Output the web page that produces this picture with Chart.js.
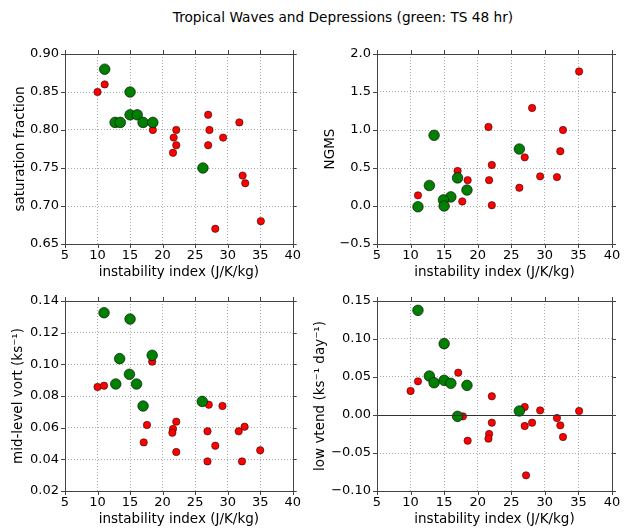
<!DOCTYPE html>
<html lang="en">
<head>
    <meta charset="UTF-8">
    <title>Tropical Waves and Depressions</title>
    <script src="https://cdn.jsdelivr.net/npm/chart.js"></script>
    <style>
        body {
            margin: 0;
            background: #ffffff;
            font-family: 'DejaVu Sans', sans-serif;
        }
        #page {
            position: relative;
            width: 631px;
            height: 528px;
            overflow: hidden;
        }
        #title {
            position: absolute;
            left: 143px;
            width: 400px;
            top: 9px;
            text-align: center;
            font-size: 13.7px;
            color: #000;
        }
        .panel {
            position: absolute;
        }
    </style>
</head>
<body>
<div id="page">
    <div id="title">Tropical Waves and Depressions (green: TS 48 hr)</div>
    <div class="panel" style="left:0px;top:30px;width:305px;height:252px"><canvas id="satChart"></canvas></div>
    <div class="panel" style="left:300px;top:30px;width:331px;height:252px"><canvas id="ngmsChart"></canvas></div>
    <div class="panel" style="left:0px;top:282px;width:305px;height:246px"><canvas id="vortChart"></canvas></div>
    <div class="panel" style="left:300px;top:282px;width:331px;height:246px"><canvas id="vtendChart"></canvas></div>
</div>

<script>
// x axis shared by all four panels
const xTicks = [5, 10, 15, 20, 25, 30, 35, 40];

// saturation fraction
const satGreenX = [11.1, 15.0, 12.7, 13.5, 15.0, 16.1, 17.0, 18.5, 26.2];
const satGreenY = [0.88, 0.85, 0.81, 0.81, 0.82, 0.82, 0.81, 0.81, 0.75];
const satRedX = [10.0, 11.1, 18.5, 22.1, 21.7, 22.1, 21.6, 27.0, 27.2, 27.0, 29.3, 31.8, 32.3, 32.7, 28.1, 35.1];
const satRedY = [0.85, 0.86, 0.80, 0.80, 0.79, 0.78, 0.77, 0.82, 0.80, 0.78, 0.79, 0.81, 0.74, 0.73, 0.67, 0.68];
const satTicks = [0.65, 0.70, 0.75, 0.80, 0.85, 0.90];

// NGMS
const ngmsGreenX = [26.2, 17.0, 12.8, 13.5, 18.4, 16.0, 14.9, 15.0, 11.1];
const ngmsGreenY = [0.75, 0.37, 0.27, 0.93, 0.21, 0.12, 0.08, 0.00, -0.01];
const ngmsRedX = [35.1, 28.1, 21.6, 32.7, 32.3, 27.0, 22.1, 17.0, 18.5, 21.7, 29.3, 31.8, 26.2, 11.1, 17.7, 22.1];
const ngmsRedY = [1.77, 1.29, 1.04, 1.00, 0.72, 0.64, 0.54, 0.46, 0.34, 0.34, 0.39, 0.38, 0.24, 0.14, 0.06, 0.01];
const ngmsTicks = [-0.5, 0.0, 0.5, 1.0, 1.5, 2.0];

// mid-level vorticity
const vortGreenX = [11.0, 15.0, 13.4, 18.4, 14.9, 12.8, 16.0, 17.0, 26.1];
const vortGreenY = [0.1326, 0.1286, 0.1036, 0.1057, 0.0937, 0.0876, 0.0876, 0.0737, 0.0766];
const vortRedX = [18.4, 10.0, 11.0, 27.1, 29.2, 17.6, 22.1, 21.6, 21.5, 26.9, 31.7, 32.6, 28.1, 17.1, 22.1, 35.0, 26.9, 32.2];
const vortRedY = [0.1017, 0.0857, 0.0865, 0.0745, 0.0737, 0.0617, 0.0638, 0.0592, 0.0568, 0.0577, 0.0577, 0.0606, 0.0486, 0.0507, 0.0446, 0.0457, 0.0387, 0.0387];
const vortTicks = [0.02, 0.04, 0.06, 0.08, 0.10, 0.12, 0.14];

// low-level vorticity tendency
const vtendGreenX = [11.1, 15.0, 12.8, 13.5, 15.0, 16.0, 18.4, 26.2, 17.0];
const vtendGreenY = [0.1377, 0.0939, 0.0513, 0.0425, 0.0456, 0.0417, 0.0390, 0.0053, -0.0018];
const vtendRedX = [10.0, 11.1, 17.1, 22.1, 27.0, 29.3, 35.1, 31.8, 32.3, 28.1, 27.0, 22.1, 21.7, 21.6, 18.5, 32.7, 27.2, 17.8];
const vtendRedY = [0.0316, 0.0443, 0.0557, 0.0246, 0.0105, 0.0061, 0.0053, -0.0040, -0.0136, -0.0101, -0.0145, -0.0101, -0.0250, -0.0311, -0.0338, -0.0290, -0.0794, -0.0018];
const vtendTicks = [-0.10, -0.05, 0.00, 0.05, 0.10, 0.15];

const FONT = "'DejaVu Sans', sans-serif";
const frameColor = '#444';

function pts(xs, ys) {
    return xs.map((x, i) => ({ x: x, y: ys[i] }));
}

// frame box, outward ticks on all sides, optional zero line
const framePlugin = {
    id: 'frame',
    afterDraw(chart, args, opts) {
        const ctx = chart.ctx;
        const a = chart.chartArea;
        const xs = chart.scales.x, ys = chart.scales.y;
        ctx.save();
        ctx.strokeStyle = frameColor;
        ctx.lineWidth = 1;
        if (opts.zero) {
            const y0 = Math.round(ys.getPixelForValue(0)) + 0.5;
            ctx.beginPath();
            ctx.moveTo(a.left, y0);
            ctx.lineTo(a.right, y0);
            ctx.strokeStyle = '#333';
            ctx.stroke();
            ctx.strokeStyle = frameColor;
        }
        ctx.strokeRect(Math.round(a.left) + 0.5, Math.round(a.top) + 0.5,
            Math.round(a.right - a.left), Math.round(a.bottom - a.top));
        ctx.beginPath();
        xs.ticks.forEach(t => {
            const px = Math.round(xs.getPixelForValue(t.value)) + 0.5;
            ctx.moveTo(px, a.bottom); ctx.lineTo(px, a.bottom + 4);
            ctx.moveTo(px, a.top); ctx.lineTo(px, a.top - 4);
        });
        ys.ticks.forEach(t => {
            const py = Math.round(ys.getPixelForValue(t.value)) + 0.5;
            ctx.moveTo(a.left, py); ctx.lineTo(a.left - 4, py);
            ctx.moveTo(a.right, py); ctx.lineTo(a.right + 4, py);
        });
        ctx.stroke();
        ctx.restore();
    }
};

function fmt(v, d) {
    return v.toFixed(d).replace('-', '\u2212');
}

function makeChart(id, cfg) {
    const ctx = document.getElementById(id).getContext('2d');
    return new Chart(ctx, {
        type: 'scatter',
        data: {
            datasets: [{
                data: pts(cfg.gx, cfg.gy),
                backgroundColor: '#008000',
                borderColor: '#000',
                borderWidth: 0.6,
                pointRadius: 5.3,
                pointHoverRadius: 5.3
            }, {
                data: pts(cfg.rx, cfg.ry),
                backgroundColor: '#ff0000',
                borderColor: '#000',
                borderWidth: 0.5,
                pointRadius: 3.7,
                pointHoverRadius: 3.7
            }]
        },
        options: {
            responsive: true,
            maintainAspectRatio: false,
            animation: false,
            events: [],
            layout: { padding: { top: cfg.padTop, right: cfg.padRight, left: 0, bottom: 0 } },
            plugins: {
                legend: { display: false },
                tooltip: { enabled: false },
                frame: { zero: !!cfg.zero }
            },
            scales: {
                x: {
                    type: 'linear',
                    min: 5,
                    max: 40,
                    afterBuildTicks: s => { s.ticks = xTicks.map(v => ({ value: v })); },
                    afterFit: s => { s.height = cfg.xHeight; },
                    grid: {
                        drawTicks: false,
                        color: c => (c.tick && (c.tick.value === 5 || c.tick.value === 40)) ? 'rgba(0,0,0,0)' : '#aaa',
                        lineWidth: 1
                    },
                    border: { display: false, dash: [1, 2] },
                    ticks: {
                        padding: 4,
                        color: '#000',
                        maxRotation: 0,
                        font: { family: FONT, size: 13 },
                        callback: v => String(v)
                    },
                    title: {
                        display: true,
                        text: 'instability index (J/K/kg)',
                        color: '#000',
                        font: { family: FONT, size: 13.5 },
                        padding: { top: 0, bottom: cfg.xTitlePad }
                    }
                },
                y: {
                    type: 'linear',
                    min: cfg.ticks[0],
                    max: cfg.ticks[cfg.ticks.length - 1],
                    afterBuildTicks: s => { s.ticks = cfg.ticks.map(v => ({ value: v })); },
                    afterFit: s => { s.width = cfg.yWidth; },
                    grid: {
                        drawTicks: false,
                        color: c => (c.index === 0 || c.index === cfg.ticks.length - 1) ? 'rgba(0,0,0,0)' : '#aaa',
                        lineWidth: 1
                    },
                    border: { display: false, dash: [1, 2] },
                    ticks: {
                        padding: 6,
                        color: '#000',
                        font: { family: FONT, size: 13 },
                        callback: v => fmt(v, cfg.dec)
                    },
                    title: {
                        display: true,
                        text: cfg.label,
                        color: '#000',
                        font: { family: FONT, size: 13.5 },
                        padding: { top: cfg.yTitlePad, bottom: 0 }
                    }
                }
            }
        },
        plugins: [framePlugin]
    });
}

makeChart('satChart', {
    gx: satGreenX, gy: satGreenY, rx: satRedX, ry: satRedY,
    ticks: satTicks, dec: 2, label: 'saturation fraction',
    padTop: 24, padRight: 6, yWidth: 65, xHeight: 38, xTitlePad: 1, yTitlePad: 12
});
makeChart('ngmsChart', {
    gx: ngmsGreenX, gy: ngmsGreenY, rx: ngmsRedX, ry: ngmsRedY,
    ticks: ngmsTicks, dec: 1, label: 'NGMS',
    padTop: 24, padRight: 19, yWidth: 77, xHeight: 38, xTitlePad: 1, yTitlePad: 22
});
makeChart('vortChart', {
    gx: vortGreenX, gy: vortGreenY, rx: vortRedX, ry: vortRedY,
    ticks: vortTicks, dec: 2, label: 'mid-level vort (ks\u207b\u00b9)',
    padTop: 19, padRight: 6, yWidth: 65, xHeight: 37, xTitlePad: 0, yTitlePad: 10
});
makeChart('vtendChart', {
    gx: vtendGreenX, gy: vtendGreenY, rx: vtendRedX, ry: vtendRedY,
    ticks: vtendTicks, dec: 2, label: 'low vtend (ks\u207b\u00b9 day\u207b\u00b9)',
    padTop: 19, padRight: 19, yWidth: 77, xHeight: 37, xTitlePad: 0, yTitlePad: 12, zero: true
});
</script>
</body>
</html>
